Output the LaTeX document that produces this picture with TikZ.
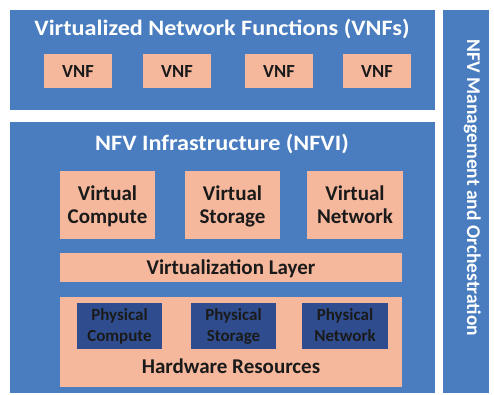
\documentclass[tikz,border=0pt]{standalone}
\usepackage{fontspec}
\setmainfont{Carlito}
\newfontfamily\headface{Carlito}[FakeStretch=1.1]
\definecolor{nfvblue}{HTML}{4A7DC0}
\definecolor{salmon}{HTML}{F6B89D}
\definecolor{navy}{HTML}{2F4D8E}
\definecolor{inktxt}{HTML}{1A1A1A}
\begin{document}
\begin{tikzpicture}[x=1pt,y=-1pt,
  panel/.style={fill=nfvblue, draw=none},
  salbox/.style={fill=salmon, draw=none, inner sep=0pt},
  navybox/.style={fill=navy, draw=none, inner sep=0pt},
  lbl/.style={anchor=base, inner sep=0pt, text=inktxt, font=\bfseries\fontsize{21}{25}\selectfont},
  vnflbl/.style={lbl, font=\bfseries\fontsize{18.5}{22}\selectfont},
  phylbl/.style={lbl, font=\bfseries\fontsize{17}{20}\selectfont},
  title/.style={anchor=base, inner sep=0pt, text=white, font=\headface\bfseries\fontsize{22}{26}\selectfont}]
\useasboundingbox[fill=white] (0,0) rectangle (494,395);
% outer panels
\path[panel] (10,10) rectangle (435,110);
\path[panel] (10,122) rectangle (435,393);
\path[panel] (443,10) rectangle (489,393);
\node[title] (vnfs) at (222,35.7) {Virtualized Network Functions (VNFs)};
\node[title] (nfvi) at (222,151) {NFV Infrastructure (NFVI)};
\node[anchor=base, inner sep=0pt, text=white, rotate=-90,
      font=\bfseries\fontsize{19.5}{23}\selectfont] (mano) at (467,188) {NFV Management and Orchestration};
% VNF instances
\foreach \x/\n in {44/a,143/b,245/c,343/d}{
  \path[salbox] (\x,54) rectangle ++(68,34);
  \node[vnflbl] (vnf\n) at (\x+34,77.3) {VNF};
}
% virtual resources
\foreach \xa/\xb/\n/\ta/\tb in {60/155/vcomp/Virtual/Compute,
                               185/280/vstor/Virtual/Storage,
                               307/403/vnet/Virtual/Network}{
  \path[salbox] (\xa,171) rectangle (\xb,239);
  \node[lbl] (\n1) at ({(\xa+\xb)/2},200.7) {\ta};
  \node[lbl] (\n2) at ({(\xa+\xb)/2},223) {\tb};
}
% virtualization layer
\path[salbox] (60,253) rectangle (402,282);
\node[lbl] (vlayer) at (231,274) {Virtualization Layer};
% hardware resources with the physical parts inside
\path[salbox] (60,297) rectangle (402,387);
\node[lbl] (hw) at (231,373) {Hardware Resources};
\foreach \xa/\xb/\n/\tb in {77/162/pcomp/Compute,
                           191/276/pstor/Storage,
                           302/388/pnet/Network}{
  \path[navybox] (\xa,303) rectangle (\xb,349);
  \node[phylbl] (\n1) at ({(\xa+\xb)/2},320.7) {Physical};
  \node[phylbl] (\n2) at ({(\xa+\xb)/2},341.7) {\tb};
}
\end{tikzpicture}
\end{document}
